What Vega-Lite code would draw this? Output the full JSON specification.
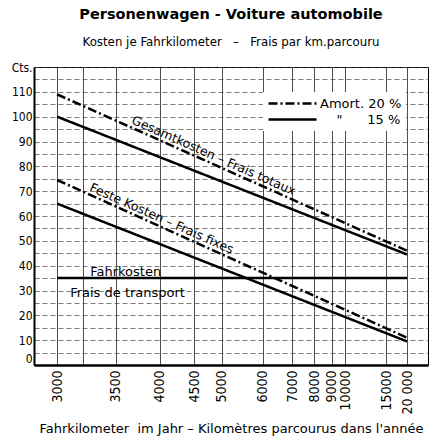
{
  "$schema": "https://vega.github.io/schema/vega-lite/v6.json",
  "autosize": "none",
  "width": 394,
  "height": 298,
  "padding": {"left": 34, "top": 67, "right": 10, "bottom": 74},
  "background": "white",
  "title": {
    "text": "Personenwagen - Voiture automobile",
    "subtitle": "Kosten je Fahrkilometer \u00a0\u00a0–\u00a0\u00a0 Frais par km.parcouru",
    "anchor": "middle",
    "font": "DejaVu Sans",
    "fontSize": 14.5,
    "fontWeight": "bold",
    "color": "black",
    "subtitleFont": "DejaVu Sans",
    "subtitleFontSize": 11.8,
    "subtitleColor": "black",
    "subtitlePadding": 15,
    "offset": 11
  },
  "config": {
    "view": {"stroke": "black", "strokeWidth": 1},
    "font": "DejaVu Sans"
  },
  "datasets": {
    "lines": [
      {"series": "Gesamtkosten 20", "amort": "20 %", "km": 3000, "cts": 109},
      {"series": "Gesamtkosten 20", "amort": "20 %", "km": 20000, "cts": 46},
      {"series": "Gesamtkosten 15", "amort": "15 %", "km": 3000, "cts": 100},
      {"series": "Gesamtkosten 15", "amort": "15 %", "km": 20000, "cts": 44.5},
      {"series": "Feste Kosten 20", "amort": "20 %", "km": 3000, "cts": 74.5},
      {"series": "Feste Kosten 20", "amort": "20 %", "km": 20000, "cts": 11},
      {"series": "Feste Kosten 15", "amort": "15 %", "km": 3000, "cts": 65},
      {"series": "Feste Kosten 15", "amort": "15 %", "km": 20000, "cts": 9.5},
      {"series": "Fahrkosten", "amort": "15 %", "km": 3000, "cts": 35},
      {"series": "Fahrkosten", "amort": "15 %", "km": 20000, "cts": 35}
    ],
    "sloped": [
      {"label": "Gesamtkosten – Frais totaux", "km": 4810, "cts": 82.8},
      {"label": "Feste Kosten – Frais fixes", "km": 4000, "cts": 57.5}
    ],
    "flat": [
      {"label": "Fahrkosten", "km": 3600, "cts": 37.3},
      {"label": "Frais de transport", "km": 3620, "cts": 29}
    ]
  },
  "layer": [
    {
      "data": {"name": "lines"},
      "mark": {"type": "line", "color": "black", "strokeWidth": 2.5},
      "encoding": {
        "x": {
          "field": "km",
          "type": "quantitative",
          "scale": {"type": "pow", "exponent": -1, "domain": [2841, 30300], "zero": false, "nice": false},
          "axis": {
            "values": [3000, 3200, 3500, 4000, 4500, 5000, 6000, 7000, 8000, 9000, 10000, 15000, 20000],
            "tickCount": 1000,
            "labelExpr": "datum.value == 3200 ? '' : datum.value == 20000 ? '20 000' : '' + datum.value",
            "labelAngle": -90,
            "labelAlign": "right",
            "labelBaseline": "middle",
            "labelFont": "DejaVu Sans Condensed",
            "labelFontSize": 14,
            "labelColor": "black",
            "labelPadding": 5,
            "labelFlush": false,
            "labelOverlap": false,
            "ticks": false,
            "domainColor": "black",
            "domainWidth": 2.5,
            "grid": true,
            "gridColor": "#222",
            "gridWidth": 0.8,
            "gridOpacity": 1,
            "title": "Fahrkilometer \u00a0im Jahr – Kilomètres parcourus dans l'année",
            "titleFont": "DejaVu Sans",
            "titleFontSize": 13,
            "titleFontWeight": "normal",
            "titleColor": "black",
            "titlePadding": 8
          }
        },
        "y": {
          "field": "cts",
          "type": "quantitative",
          "scale": {"domain": [0, 120], "nice": false, "zero": true},
          "axis": {
            "values": [0, 5, 10, 15, 20, 25, 30, 35, 40, 45, 50, 55, 60, 65, 70, 75, 80, 85, 90, 95, 100, 105, 110, 115, 120],
            "tickCount": 1000,
            "labelExpr": "datum.value == 120 ? 'Cts.' : datum.value % 10 == 0 ? datum.value + '\u00a0\u00a0' : ''",
            "labelFont": "DejaVu Sans Condensed",
            "labelFontSize": 12,
            "labelColor": "black",
            "labelPadding": 2,
            "labelBaseline": {"condition": {"test": "datum.value == 0", "value": "bottom"}, "value": "middle"},
            "labelOverlap": false,
            "labelFlush": false,
            "ticks": false,
            "domainColor": "black",
            "domainWidth": 2,
            "grid": true,
            "gridColor": "#444",
            "gridWidth": 0.7,
            "gridOpacity": 1,
            "gridDash": [5, 3],
            "title": null
          }
        },
        "detail": {"field": "series"},
        "strokeDash": {
          "field": "amort",
          "type": "nominal",
          "scale": {"domain": ["20 %", "15 %"], "range": [[9, 3, 2, 3], [1, 0]]},
          "legend": {
            "orient": "none",
            "legendX": 229,
            "legendY": 25,
            "title": null,
            "fillColor": "white",
            "padding": 4,
            "symbolType": "M-4,0L4,0",
            "symbolSize": 144,
            "symbolOffset": 18,
            "symbolStrokeWidth": 2.5,
            "symbolStrokeColor": "black",
            "labelFont": "DejaVu Sans",
            "labelFontSize": 13,
            "labelColor": "black",
            "labelOffset": 20,
            "rowPadding": 1,
            "labelExpr": "datum.label == '20 %' ? 'Amort. 20 %' : '\u200b\u00a0\u00a0\u00a0\u00a0\"\u00a0\u00a0\u00a0\u00a0\u00a0\u00a015 %'"
          }
        }
      }
    },
    {
      "data": {"name": "sloped"},
      "mark": {"type": "text", "angle": 24, "font": "DejaVu Sans", "fontSize": 12.5, "color": "black", "align": "center", "baseline": "alphabetic"},
      "encoding": {
        "x": {"field": "km", "type": "quantitative"},
        "y": {"field": "cts", "type": "quantitative"},
        "text": {"field": "label"}
      }
    },
    {
      "data": {"name": "flat"},
      "mark": {"type": "text", "font": "DejaVu Sans", "fontSize": 13, "color": "black", "align": "center", "baseline": "middle"},
      "encoding": {
        "x": {"field": "km", "type": "quantitative"},
        "y": {"field": "cts", "type": "quantitative"},
        "text": {"field": "label"}
      }
    }
  ]
}
